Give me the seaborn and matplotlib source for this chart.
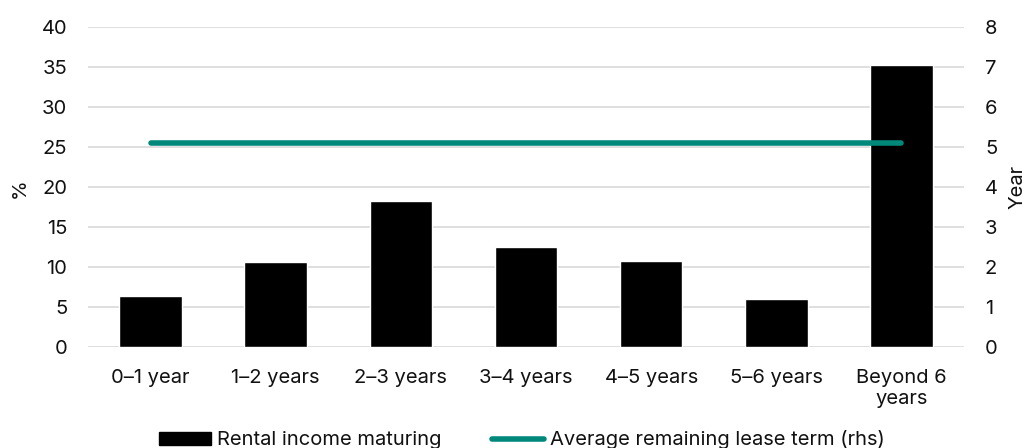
import matplotlib
matplotlib.use("Agg")
import matplotlib.pyplot as plt
import seaborn as sns
import pandas as pd
import numpy as np
from matplotlib.lines import Line2D
from matplotlib.patches import Patch

# Lease expiry profile
categories = ["0–1 year", "1–2 years", "2–3 years", "3–4 years",
              "4–5 years", "5–6 years", "Beyond 6\nyears"]
rental_income = [6.4, 10.6, 18.2, 12.45, 10.75, 6.0, 35.3]   # % of rental income maturing
lease_term = [5.1, 5.1, 5.1, 5.1, 5.1, 5.1, 5.1]               # average remaining lease term, years
left_ticks = [0, 5, 10, 15, 20, 25, 30, 35, 40]
right_ticks = [0, 1, 2, 3, 4, 5, 6, 7, 8]

TEAL = "#00897B"
GRID = "#d9d9d9"
INK = "#111111"
FS = 14.5

sns.set_theme(style="white")
plt.rcParams["font.family"] = ["Inter", "DejaVu Sans"]
plt.rcParams["text.color"] = INK

df = pd.DataFrame({"category": categories, "rental": rental_income, "term": lease_term})

fig = plt.figure(figsize=(10.29, 4.48), dpi=100)
ax = fig.add_axes([0.0855, 0.2254, 0.8514, 0.7143])

sns.barplot(data=df, x="category", y="rental", color="black", width=0.5,
            saturation=1, ax=ax)
ax.set_xlim(-0.5, len(categories) - 0.5)
ax.set_ylim(0, 40)
ax.set_yticks(left_ticks)
ax.yaxis.grid(True, color=GRID, lw=1.2)
ax.set_axisbelow(True)
ax.set_xlabel("")
ax.set_ylabel("")
ax.tick_params(axis="both", length=0, labelsize=FS, colors=INK)
ax.tick_params(axis="y", pad=15)
ax.tick_params(axis="x", pad=16)
for s in ax.spines.values():
    s.set_visible(False)

ax2 = ax.twinx()
sns.lineplot(x=np.arange(len(categories)), y=df["term"], ax=ax2, color=TEAL,
             lw=4, solid_capstyle="round")
ax2.set_ylim(0, 8)
ax2.set_yticks(right_ticks)
ax2.set_ylabel("")
ax2.tick_params(axis="y", length=0, labelsize=FS, pad=15, colors=INK)
for s in ax2.spines.values():
    s.set_visible(False)
ax.set_xlim(-0.5, len(categories) - 0.5)

# Axis titles
fig.text(20 / 1029, 1 - 188 / 448, "%", rotation=90, ha="center", va="center", fontsize=FS)
fig.text(1018 / 1029, 1 - 187 / 448, "Year", rotation=90, ha="center", va="center", fontsize=FS)

handles = [Patch(facecolor="black", edgecolor="black"),
           Line2D([0], [0], color=TEAL, lw=4, solid_capstyle="round")]
labels = ["Rental income maturing", "Average remaining lease term (rhs)"]
fig.legend(handles, labels, loc="center", bbox_to_anchor=(0.507, 0.018), ncol=2,
           frameon=False, fontsize=FS, handlelength=2.6, handleheight=0.65,
           handletextpad=0.3, columnspacing=2.5, borderpad=0)

fig.savefig("out.png", dpi=100)
